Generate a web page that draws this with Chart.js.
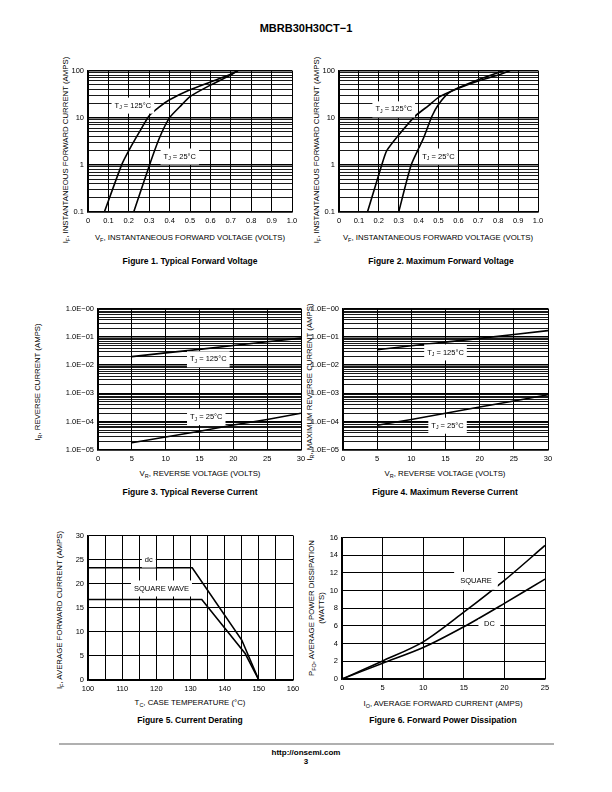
<!DOCTYPE html>
<html>
<head>
<meta charset="utf-8">
<script src="https://cdn.jsdelivr.net/npm/chart.js@4.4.1/dist/chart.umd.min.js"></script>
<style>
  body { margin: 0; width: 612px; height: 792px; position: relative; background: #fff; color: #000;
         font-family: "Liberation Sans", Arial, Helvetica, sans-serif; overflow: hidden; }
  canvas { position: absolute; }
  .t { position: absolute; white-space: nowrap; }
  .cap { font-weight: bold; font-size: 8.5px; transform: translate(-50%, -50%); }
  .xt { font-size: 7.8px; transform: translate(-50%, -50%); }
  .yt { font-size: 7.8px; transform: translate(-50%, -50%) rotate(-90deg); text-align: center; line-height: 9.5px; }
  sub { font-size: 70%; vertical-align: -2px; line-height: 0; }
</style>
</head>
<body>

<div class="t" style="left:306px;top:28px;font-weight:bold;font-size:11px;transform:translate(-50%,-50%)">MBRB30H30CT−1</div>

<div class="t yt" style="left:66px;top:150px">I<sub>F</sub>, INSTANTANEOUS FORWARD CURRENT (AMPS)</div>
<div class="t xt" style="left:190px;top:237px">V<sub>F</sub>, INSTANTANEOUS FORWARD VOLTAGE (VOLTS)</div>
<div class="t cap" style="left:190px;top:261px">Figure 1. Typical Forward Voltage</div>

<div class="t yt" style="left:317px;top:150px">I<sub>F</sub>, INSTANTANEOUS FORWARD CURRENT (AMPS)</div>
<div class="t xt" style="left:438px;top:237px">V<sub>F</sub>, INSTANTANEOUS FORWARD VOLTAGE (VOLTS)</div>
<div class="t cap" style="left:441px;top:261px">Figure 2. Maximum Forward Voltage</div>

<div class="t yt" style="left:38px;top:382px">I<sub>R</sub>, REVERSE CURRENT (AMPS)</div>
<div class="t xt" style="left:200px;top:473px">V<sub>R</sub>, REVERSE VOLTAGE (VOLTS)</div>
<div class="t cap" style="left:190px;top:492px">Figure 3. Typical Reverse Current</div>

<div class="t yt" style="left:310px;top:382px">I<sub>R</sub>, MAXIMUM REVERSE CURRENT (AMPS)</div>
<div class="t xt" style="left:445px;top:473px">V<sub>R</sub>, REVERSE VOLTAGE (VOLTS)</div>
<div class="t cap" style="left:445px;top:492px">Figure 4. Maximum Reverse Current</div>

<div class="t yt" style="left:60px;top:610px">I<sub>F</sub>, AVERAGE FORWARD CURRENT (AMPS)</div>
<div class="t xt" style="left:190px;top:702px">T<sub>C</sub>, CASE TEMPERATURE (°C)</div>
<div class="t cap" style="left:190px;top:720px">Figure 5. Current Derating</div>

<div class="t yt" style="left:316px;top:608px">P<sub>FO</sub>, AVERAGE POWER DISSIPATION<br>(WATTS)</div>
<div class="t xt" style="left:443px;top:703px">I<sub>O</sub>, AVERAGE FORWARD CURRENT (AMPS)</div>
<div class="t cap" style="left:443px;top:720px">Figure 6. Forward Power Dissipation</div>

<div style="position:absolute;left:59px;top:743px;width:495px;height:1.5px;background:#b0b0b0"></div>
<div class="t" style="left:306px;top:752px;font-weight:bold;font-size:8px;transform:translate(-50%,-50%)">http://onsemi.com</div>
<div class="t" style="left:306px;top:761px;font-weight:bold;font-size:8px;transform:translate(-50%,-50%)">3</div>

<script>
// ---- data ----
// Figure 1: typical forward voltage
const fig1Vf125 = [0.08, 0.165, 0.2, 0.25, 0.3, 0.35, 0.4, 0.5, 0.6, 0.7, 0.735];
const fig1If125 = [0.1, 1.0, 2.0, 4.8, 11, 17, 24, 39, 57, 83, 100];
const fig1Vf25 = [0.224, 0.3, 0.35, 0.4, 0.45, 0.5, 0.6, 0.7, 0.735];
const fig1If25 = [0.1, 0.95, 3.7, 10, 17, 28, 49, 80, 100];

// Figure 2: maximum forward voltage
const fig2Vf125 = [0.143, 0.215, 0.24, 0.3, 0.383, 0.45, 0.5, 0.6, 0.7, 0.8, 0.86];
const fig2If125 = [0.1, 1.0, 2.0, 4.3, 10.8, 18, 27, 42, 60, 80, 100];
const fig2Vf25 = [0.3, 0.363, 0.425, 0.467, 0.5, 0.55, 0.6, 0.7, 0.83];
const fig2If25 = [0.1, 1.0, 3.7, 10.7, 19, 33, 43, 64, 100];

// Figure 3: typical reverse current
const fig3Vr = [5, 10, 15, 20, 25, 30];
const fig3Ir125 = [0.02, 0.027, 0.036, 0.049, 0.067, 0.09];
const fig3Ir25 = [1.8e-5, 2.9e-5, 4.6e-5, 7.6e-5, 1.2e-4, 2.0e-4];

// Figure 4: maximum reverse current
const fig4Vr = [5, 10, 15, 20, 25, 30];
const fig4Ir125 = [0.035, 0.048, 0.065, 0.088, 0.12, 0.165];
const fig4Ir25 = [7.5e-5, 1.2e-4, 2.0e-4, 3.3e-4, 5.4e-4, 9.0e-4];

// Figure 5: current derating
const fig5TcDc = [100, 130.5, 145, 150];
const fig5IfDc = [23.3, 23.3, 8.3, 0];
const fig5TcSq = [100, 133.3, 146, 150];
const fig5IfSq = [16.7, 16.7, 5.5, 0];

// Figure 6: forward power dissipation
const fig6Io = [0, 5, 10, 15, 20, 25];
const fig6PSquare = [0, 2.04, 4.2, 7.55, 11.15, 15.1];
const fig6PDc = [0, 1.78, 3.55, 5.9, 8.55, 11.3];

// log axis decades and their tick labels
const fig12Decades = [0.1, 1, 10, 100];
const fig12DecadeLabels = ['0.1', '1', '10', '100'];
const fig34Decades = [1e-5, 1e-4, 1e-3, 1e-2, 1e-1, 1];
const fig34DecadeLabels = ['1.0E−05', '1.0E−04', '1.0E−03', '1.0E−02', '1.0E−01', '1.0E−00'];
const minorSteps = [1, 2, 3, 4, 5, 6, 7, 8, 9];

// ---- chart helpers ----
const FONT = '"Liberation Sans", Arial, Helvetica, sans-serif';
const TICK_PX = 7.5;
Chart.defaults.font.family = FONT;
Chart.defaults.font.size = TICK_PX;
Chart.defaults.color = '#000';

// white-boxed curve labels, placed at data coordinates
const labelPlugin = {
  id: 'curveLabels',
  afterDatasetsDraw(chart, args, opts) {
    const { ctx, scales: { x, y } } = chart;
    (opts.items || []).forEach(it => {
      const cx = x.getPixelForValue(it.x), cy = y.getPixelForValue(it.y);
      let w = 0;
      it.parts.forEach(p => {
        ctx.font = (p[1] ? 5.2 : TICK_PX) + 'px ' + FONT;
        w += ctx.measureText(p[0]).width;
      });
      const px = it.px || 3, py = it.py === undefined ? 4 : it.py;
      ctx.save();
      ctx.fillStyle = '#fff';
      ctx.fillRect(cx - w / 2 - px, cy - 4 - py, w + 2 * px, 8 + 2 * py);
      ctx.fillStyle = '#000';
      ctx.textBaseline = 'middle';
      let tx = cx - w / 2;
      it.parts.forEach(p => {
        ctx.font = (p[1] ? 5.2 : TICK_PX) + 'px ' + FONT;
        ctx.fillText(p[0], tx, cy + (p[1] ? 2 : 0));
        tx += ctx.measureText(p[0]).width;
      });
      ctx.restore();
    });
  }
};

function pts(xs, ys) { return xs.map((v, i) => ({ x: v, y: ys[i] })); }

function curve(xs, ys, tension) {
  return { data: pts(xs, ys), borderColor: '#000', borderWidth: 1.6, pointRadius: 0, fill: false, tension: tension || 0 };
}

function linAxis(min, max, step, fmt) {
  return {
    type: 'linear', min, max,
    ticks: { stepSize: step, autoSkip: false, maxRotation: 0, padding: 4, callback: fmt || (v => String(v)) },
    grid: { color: '#000', lineWidth: 1, drawTicks: false },
    border: { color: '#000', width: 1.5 }
  };
}

function logAxis(decades, labels) {
  const min = decades[0], max = decades[decades.length - 1];
  const vals = [];
  decades.forEach(d => minorSteps.forEach(k => {
    const v = +(k * d).toPrecision(3);
    if (v <= max) vals.push(v);
  }));
  const decIdx = v => decades.findIndex(d => Math.abs(d - v) / d < 1e-6);
  return {
    type: 'logarithmic', min, max,
    afterBuildTicks: s => { s.ticks = vals.map(v => ({ value: v })); },
    ticks: { autoSkip: false, padding: 4, callback: v => { const i = decIdx(v); return i >= 0 ? labels[i] : ''; } },
    grid: { color: '#000', drawTicks: false, lineWidth: c => (c.tick && decIdx(c.tick.value) >= 0) ? 1.5 : 0.9 },
    border: { color: '#000', width: 1.5 }
  };
}

function makeChart(plot, xAxis, yAxis, datasets, items) {
  const L = 46, R = 14, T = 8, B = 18;
  const cv = document.createElement('canvas');
  cv.width = plot.w + L + R;
  cv.height = plot.h + T + B;
  cv.style.left = (plot.x - L) + 'px';
  cv.style.top = (plot.y - T) + 'px';
  document.body.appendChild(cv);
  xAxis.afterFit = s => { s.height = B; };
  yAxis.afterFit = s => { s.width = L; };
  return new Chart(cv, {
    type: 'line',
    data: { datasets },
    options: {
      responsive: false,
      animation: false,
      layout: { padding: { left: 0, right: R, top: T, bottom: 0 } },
      plugins: { legend: { display: false }, tooltip: { enabled: false }, curveLabels: { items } },
      scales: { x: xAxis, y: yAxis }
    },
    plugins: [labelPlugin]
  });
}

const vfFmt = v => v === 0 ? '0' : v.toFixed(1);
const tj125 = [['T', 0], ['J', 1], [' = 125°C', 0]];
const tj25 = [['T', 0], ['J', 1], [' = 25°C', 0]];

// Figure 1
makeChart({ x: 88, y: 70, w: 204, h: 142 },
  linAxis(0, 1, 0.1, vfFmt), logAxis(fig12Decades, fig12DecadeLabels),
  [curve(fig1Vf125, fig1If125, 0.2), curve(fig1Vf25, fig1If25, 0.2)],
  [{ x: 0.22, y: 18, parts: tj125 }, { x: 0.45, y: 1.5, parts: tj25 }]);

// Figure 2
makeChart({ x: 339, y: 70, w: 199, h: 142 },
  linAxis(0, 1, 0.1, vfFmt), logAxis(fig12Decades, fig12DecadeLabels),
  [curve(fig2Vf125, fig2If125, 0.2), curve(fig2Vf25, fig2If25, 0.2)],
  [{ x: 0.275, y: 15, parts: tj125 }, { x: 0.50, y: 1.5, parts: tj25 }]);

// Figure 3
makeChart({ x: 98, y: 308, w: 203, h: 142 },
  linAxis(0, 30, 5), logAxis(fig34Decades, fig34DecadeLabels),
  [curve(fig3Vr, fig3Ir125), curve(fig3Vr, fig3Ir25)],
  [{ x: 16.3, y: 0.016, parts: tj125 }, { x: 16, y: 1.45e-4, parts: tj25 }]);

// Figure 4
makeChart({ x: 343, y: 308, w: 205, h: 142 },
  linAxis(0, 30, 5), logAxis(fig34Decades, fig34DecadeLabels),
  [curve(fig4Vr, fig4Ir125), curve(fig4Vr, fig4Ir25)],
  [{ x: 15, y: 0.028, parts: tj125 }, { x: 15.3, y: 7.2e-5, parts: tj25 }]);

// Figure 5
makeChart({ x: 88, y: 535, w: 205, h: 145 },
  linAxis(100, 160, 5, v => v % 10 === 0 ? String(v) : ''), linAxis(0, 30, 5),
  [curve(fig5TcDc, fig5IfDc), curve(fig5TcSq, fig5IfSq)],
  [{ x: 117.8, y: 25, parts: [['dc', 0]] }, { x: 121.5, y: 19, parts: [['SQUARE WAVE', 0]] }]);

// Figure 6
makeChart({ x: 342, y: 537, w: 203, h: 142 },
  linAxis(0, 25, 5), linAxis(0, 16, 2),
  [curve(fig6Io, fig6PSquare, 0.3), curve(fig6Io, fig6PDc, 0.3)],
  [{ x: 16.5, y: 11.1, parts: [['SQUARE', 0]], px: 6, py: 5 }, { x: 18.15, y: 6.2, parts: [['DC', 0]], px: 5.5, py: 1 }]);
</script>
</body>
</html>
